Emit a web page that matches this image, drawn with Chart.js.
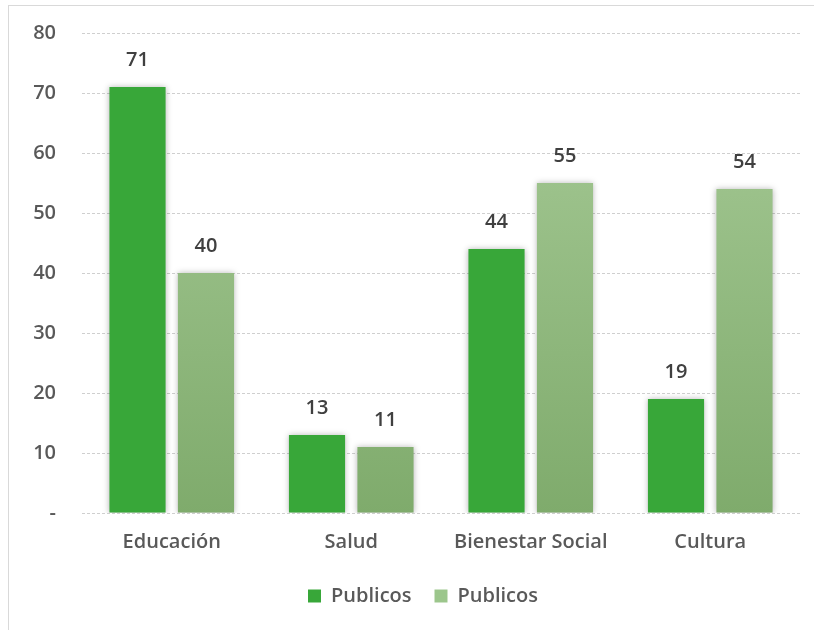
<!DOCTYPE html>
<html>
<head>
<meta charset="utf-8">
<script src="https://cdn.jsdelivr.net/npm/chart.js@4"></script>
<style>
  html, body { margin: 0; padding: 0; background: #fff; }
  #wrap {
    position: absolute; left: 8px; top: 5px; width: 820px; height: 640px;
    border-left: 1px solid #d9d9d9; border-top: 1px solid #d9d9d9;
  }
  #box { position: absolute; left: 0; top: 0; width: 814px; height: 630px; }
</style>
</head>
<body>
<div id="wrap"></div>
<div id="box"><canvas id="chart"></canvas></div>
<script>
// data
const categories = ["Educación", "Salud", "Bienestar Social", "Cultura"];
const seriesNames = ["Publicos", "Publicos"];
const darkValues = [71, 13, 44, 19];
const lightValues = [40, 11, 55, 54];
const yTicks = [0, 10, 20, 30, 40, 50, 60, 70, 80];

const FONT = "'Open Sans', 'DejaVu Sans', sans-serif";
const TEXT = { family: FONT, size: 20, weight: '600' };
const TEXT_COLOR = '#595959';
const DARK = '#38a739';
const LIGHT_KEY = '#9cc68c';

function lightFill(context){
  const chart = context.chart;
  const area = chart.chartArea;
  if(!area) return LIGHT_KEY;
  const g = chart.ctx.createLinearGradient(0, area.top, 0, area.bottom);
  g.addColorStop(0, '#a9cc99');
  g.addColorStop(1, '#7fab6c');
  return g;
}

// soft shadow behind the bars
const barShadow = {
  id: 'barShadow',
  beforeDatasetDraw(chart){
    const ctx = chart.ctx;
    ctx.save();
    ctx.shadowColor = 'rgba(0,0,0,0.28)';
    ctx.shadowBlur = 6;
  },
  afterDatasetDraw(chart){
    chart.ctx.restore();
  }
};

// value labels above each bar
const valueLabels = {
  id: 'valueLabels',
  afterDatasetsDraw(chart){
    const ctx = chart.ctx;
    ctx.save();
    ctx.font = `600 20px ${FONT}`;
    ctx.fillStyle = '#404040';
    ctx.textAlign = 'center';
    ctx.textBaseline = 'middle';
    chart.data.datasets.forEach((ds, i) => {
      chart.getDatasetMeta(i).data.forEach((bar, j) => {
        ctx.fillText(String(ds.data[j]), bar.x, bar.y - 27);
      });
    });
    ctx.restore();
  }
};

// legend sits a bit right of the canvas centre in the original
const legendShift = {
  id: 'legendShift',
  afterLayout(chart){
    chart.legend.left += 23;
    chart.legend.right += 23;
  }
};

new Chart(document.getElementById('chart'), {
  type: 'bar',
  data: {
    labels: categories,
    datasets: [
      { label: seriesNames[0], data: darkValues, backgroundColor: DARK },
      { label: seriesNames[1], data: lightValues, backgroundColor: lightFill }
    ]
  },
  options: {
    responsive: true,
    maintainAspectRatio: false,
    animation: false,
    layout: { padding: { top: 33, right: 14, left: 0, bottom: 14 } },
    datasets: { bar: { categoryPercentage: 0.763, barPercentage: 0.82 } },
    plugins: {
      tooltip: { enabled: false },
      legend: {
        position: 'bottom',
        labels: {
          boxWidth: 13, boxHeight: 13, padding: 23,
          color: TEXT_COLOR,
          font: TEXT,
          generateLabels(chart){
            return chart.data.datasets.map((ds, i) => ({
              text: ds.label,
              fillStyle: i === 0 ? DARK : LIGHT_KEY,
              strokeStyle: 'transparent',
              lineWidth: 0,
              fontColor: TEXT_COLOR,
              datasetIndex: i,
              hidden: false
            }));
          }
        }
      }
    },
    scales: {
      x: {
        grid: { display: false },
        border: { display: false },
        ticks: { color: TEXT_COLOR, font: TEXT, padding: 9 },
        afterFit(scale){ scale.height = 50; }
      },
      y: {
        min: 0, max: 80,
        afterBuildTicks(scale){ scale.ticks = yTicks.map(v => ({ value: v })); },
        grid: { color: '#cfcfcf', lineWidth: 1, drawTicks: false },
        border: { display: false, dash: [3, 2] },
        ticks: {
          color: TEXT_COLOR, font: TEXT, padding: 26,
          callback: v => v === 0 ? '-' : v
        },
        afterFit(scale){ scale.width = 82; scale.paddingTop = 0; scale.paddingBottom = 0; }
      }
    }
  },
  plugins: [barShadow, valueLabels, legendShift]
});
</script>
</body>
</html>
